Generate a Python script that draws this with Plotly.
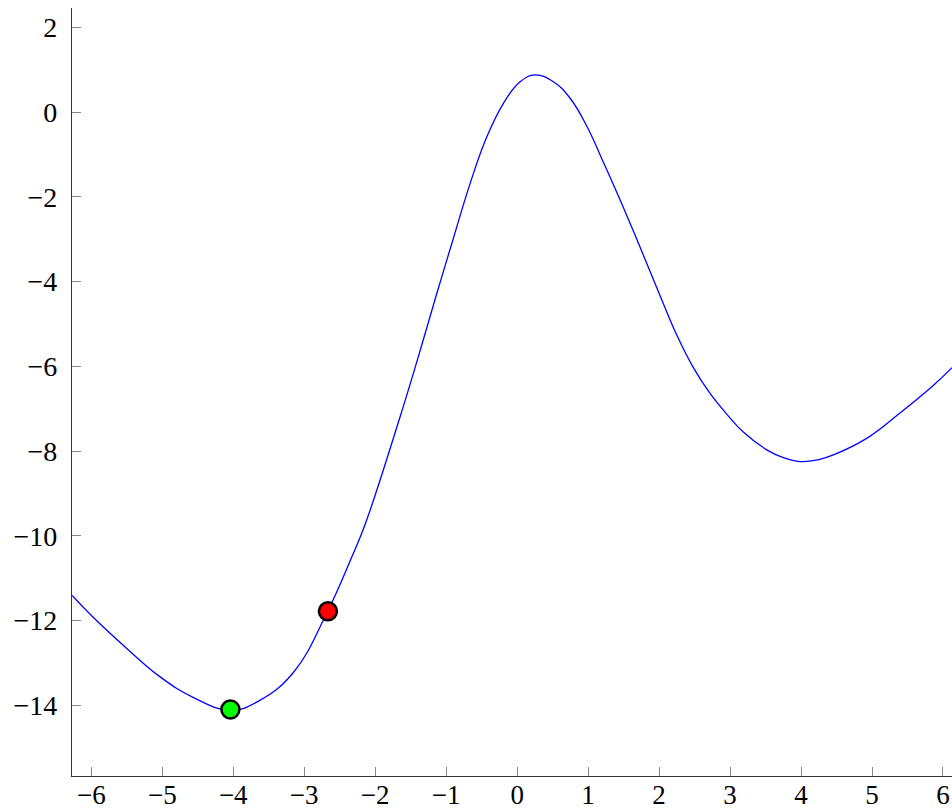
import plotly.graph_objects as go

# Curve samples
curve_x = [-6.27, -5.97, -5.50, -5.03, -4.56, -4.04, -3.62, -3.15, -2.67, -2.33,
           -2.14, -1.67, -1.45, -1.155, -0.897, -0.662, -0.427, -0.193, 0.042, 0.254,
           0.511, 0.746, 0.982, 1.215, 1.451, 1.686, 2.014, 2.249, 2.483, 2.718,
           2.95, 3.187, 3.517, 3.76, 4.010, 4.25, 4.455, 4.925, 5.394, 5.863, 6.127]
curve_y = [-11.41, -11.93, -12.66, -13.33, -13.82, -14.12, -13.88, -13.22, -11.78, -10.50,
           -9.72, -7.30, -6.10, -4.41, -2.97, -1.68, -0.58, 0.21, 0.72, 0.88,
           0.72, 0.33, -0.33, -1.18, -2.07, -3.00, -4.33, -5.26, -6.03, -6.64,
           -7.12, -7.55, -7.97, -8.16, -8.25, -8.20, -8.09, -7.70, -7.10, -6.45, -6.03]

# Highlighted points
green_x = [-4.04]
green_y = [-14.10]
red_x = [-2.666]
red_y = [-11.78]

x_ticks = [-6, -5, -4, -3, -2, -1, 0, 1, 2, 3, 4, 5, 6]
y_ticks = [2, 0, -2, -4, -6, -8, -10, -12, -14]


def lab(v):
    return ("\u2212" + str(abs(v))) if v < 0 else str(v)


fig = go.Figure()
fig.add_trace(go.Scatter(x=curve_x, y=curve_y, mode="lines",
                         line=dict(color="#0000ff", width=1.3, shape="spline", smoothing=1.2),
                         showlegend=False, hoverinfo="skip"))
fig.add_trace(go.Scatter(x=green_x, y=green_y, mode="markers",
                         marker=dict(color="#00ff00", size=18, line=dict(color="black", width=2.5)),
                         showlegend=False))
fig.add_trace(go.Scatter(x=red_x, y=red_y, mode="markers",
                         marker=dict(color="#ff0000", size=18, line=dict(color="black", width=2.5)),
                         showlegend=False))

font = dict(family="Liberation Serif, DejaVu Serif, serif", size=28, color="black")
xfont = dict(family="Liberation Serif, DejaVu Serif, serif", size=27, color="black")

fig.update_layout(
    width=952, height=809,
    margin=dict(l=72, r=0, t=8, b=33),
    paper_bgcolor="white", plot_bgcolor="white",
    font=font,
    xaxis=dict(range=[-6.272, 6.127], tickvals=x_ticks, ticktext=[lab(v) for v in x_ticks],
               ticks="inside", ticklen=9, tickcolor="#888888", tickwidth=1,
               showline=True, linecolor="#333333", linewidth=1.3, mirror=False,
               showgrid=False, zeroline=False, automargin=False, ticklabelstandoff=-6,
               tickfont=xfont),
    yaxis=dict(range=[-15.67, 2.46], tickvals=y_ticks, ticktext=[lab(v) for v in y_ticks],
               ticks="inside", ticklen=9, tickcolor="#888888", tickwidth=1,
               showline=True, linecolor="#333333", linewidth=1.3, mirror=False,
               showgrid=False, zeroline=False, automargin=False, ticklabelstandoff=8,
               tickfont=font),
)

fig.write_html("out.html", config={"displayModeBar": False},
               post_script="document.body.style.margin='0';document.body.style.overflow='hidden';")
